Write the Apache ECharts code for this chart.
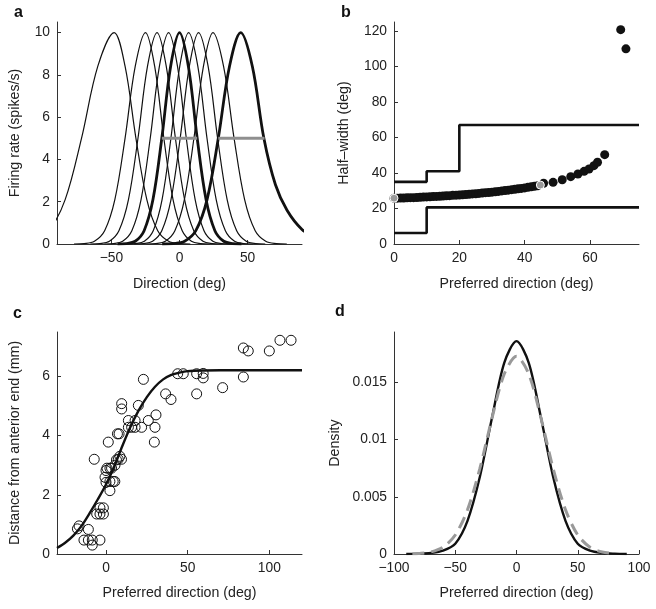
<!DOCTYPE html>
<html><head><meta charset="utf-8">
<script src="https://cdn.jsdelivr.net/npm/echarts@6/dist/echarts.min.js"></script>
<style>html,body{margin:0;padding:0;background:#fff}#c{width:656px;height:609px}</style>
</head><body><div id="c"></div>
<script>
// ---------- Panel a: tuning curves ----------
const curveA1 = [[-144,0],[-120,0.02],[-108,0.13],[-96,0.63],[-84,2.1],[-72,5],[-60,8.41],[-48,10],[-40,8.41],[-32,5],[-24,2.1],[-16,0.63],[-8,0.13],[0,0.02],[8,0]];
const curveA2 = [[-77.5,0],[-70,0.02],[-62.5,0.13],[-55,0.63],[-47.5,2.1],[-40,5],[-32.5,8.41],[-25,10],[-18.25,8.41],[-11.5,5],[-4.75,2.1],[2,0.63],[8.75,0.13],[15.5,0.02],[22.25,0]];
const curveA3 = [[-65.5,0],[-58.5,0.02],[-51.5,0.13],[-44.5,0.63],[-37.5,2.1],[-30.5,5],[-23.5,8.41],[-16.5,10],[-9.75,8.41],[-3,5],[3.75,2.1],[10.5,0.63],[17.25,0.13],[24,0.02],[30.75,0]];
const curveA4 = [[-55.25,0],[-48.5,0.02],[-41.75,0.13],[-35,0.63],[-28.25,2.1],[-21.5,5],[-14.75,8.41],[-8,10],[-1.5,8.41],[5,5],[11.5,2.1],[18,0.63],[24.5,0.13],[31,0.02],[37.5,0]];
const curveA5 = [[-45.5,0],[-39,0.02],[-32.5,0.13],[-26,0.63],[-19.5,2.1],[-13,5],[-6.5,8.41],[0,10],[6.5,8.41],[13,5],[19.5,2.1],[26,0.63],[32.5,0.13],[39,0.02],[45.5,0]];
const curveA6 = [[-38.8,0],[-32.3,0.02],[-25.8,0.13],[-19.3,0.63],[-12.8,2.1],[-6.3,5],[0.2,8.41],[6.7,10],[13.45,8.41],[20.2,5],[26.95,2.1],[33.7,0.63],[40.45,0.13],[47.2,0.02],[53.95,0]];
const curveA7 = [[-33.25,0],[-26.5,0.02],[-19.75,0.13],[-13,0.63],[-6.25,2.1],[0.5,5],[7.25,8.41],[14,10],[21,8.41],[28,5],[35,2.1],[42,0.63],[49,0.13],[56,0.02],[63,0]];
const curveA8 = [[-24.4,0],[-17.4,0.02],[-10.4,0.13],[-3.4,0.63],[3.6,2.1],[10.6,5],[17.6,8.41],[24.6,10],[32.35,8.41],[40.1,5],[47.85,2.1],[55.6,0.63],[63.35,0.13],[71.1,0.02],[78.85,0]];
const curveA9 = [[-12.75,0],[-4.5,0.02],[3.75,0.13],[12,0.63],[20.25,2.1],[28.5,5],[36.75,8.41],[45,10],[53.5,8.41],[62,5],[70.5,2.8],[79,1.6],[90,0.69],[100,0.3]];
const thinCurvesA = [curveA1, curveA2, curveA3, curveA4, curveA6, curveA7, curveA8];
const boldCurvesA = [curveA5, curveA9];
const halfBarsA = [[[-13,5],[13,5]], [[28.5,5],[62.5,5]]];
const ticksAx = [-50, 0, 50];
const ticksAy = [0, 2, 4, 6, 8, 10];

// ---------- Panel b: half-width vs preferred direction ----------
const bandBx = [0,1,2,3,4,5,6,7,8,9,10,11,12,13,14,15,16,17,18,19,20,21,22,23,24,25,26,27,28,29,30,31,32,33,34,35,36,37,38,39,40,41,42,43,44];
const bandBy = [25.8,25.8,25.9,25.9,26.0,26.1,26.1,26.2,26.3,26.4,26.5,26.6,26.7,26.8,26.9,27.0,27.1,27.2,27.4,27.5,27.6,27.7,27.9,28.0,28.2,28.3,28.5,28.7,28.9,29.0,29.2,29.4,29.6,29.9,30.1,30.3,30.6,30.8,31.1,31.3,31.6,31.9,32.2,32.5,32.8];
const dotsB = [[45.8,34.2],[48.7,34.7],[51.5,36.2],[54.1,37.9],[56.3,39.4],[58.2,40.9],[59.7,42.2],[61.2,44.1],[62.3,46],[64.5,50.3],[69.4,120.7],[71,109.9]];
const grayB = [[0,25.8],[44.8,33.2]];
const upperB = [[0,35],[10,35],[10,41],[20,41],[20,67],[75,67]];
const lowerB = [[0,6.2],[10,6.2],[10,20.6],[75,20.6]];
const ticksBx = [0, 20, 40, 60];
const ticksBy = [0, 20, 40, 60, 80, 100, 120];

// ---------- Panel c: distance vs preferred direction ----------
const pointsC = [[-17.5,0.85],[-16.5,0.95],[-10.8,0.83],[-13.5,0.47],[-10.8,0.47],[-8.4,0.47],[-8.4,0.3],[-3.7,0.47],[-7.2,3.2],
 [-5.7,1.35],[-3.7,1.35],[-1.6,1.35],[-3.7,1.56],[-1.6,1.56],[0,2.82],[-0.6,2.59],[0,2.42],[0.6,2.9],[1.4,3.78],[2.4,2.14],
 [2.4,2.9],[3.4,2.9],[2.4,2.45],[4.4,2.45],[5.4,2.45],[5.5,3.0],[6.4,3.18],[7.5,3.2],[8.5,3.3],[9.5,3.2],[7,4.06],[8,4.06],
 [9.6,5.08],[9.6,4.9],[13.7,4.51],[13.7,4.28],[15.7,4.28],[17.8,4.51],[17.8,4.28],[19.8,5.02],[21.8,4.28],[22.9,5.9],[25.9,4.51],
 [30,4.28],[29.6,3.78],[30.6,4.7],[36.5,5.41],[39.8,5.22],[43.9,6.09],[47.3,6.09],[55.5,6.09],[55.5,5.41],[59.5,6.1],[59.5,5.95],
 [71.4,5.62],[84.1,6.96],[87.1,6.86],[84.1,5.98],[100,6.86],[106.5,7.22],[113.3,7.22]];
const fitC = [[-30,0.2],[-25,0.38],[-20,0.62],[-15,0.95],[-10,1.38],[-5,1.85],[0,2.35],[5,2.95],[10,3.65],[15,4.3],[20,4.85],[25,5.3],[30,5.65],[35,5.9],[40,6.05],[45,6.13],[50,6.18],[60,6.2],[80,6.21],[120,6.21]];
const ticksCx = [0, 50, 100];
const ticksCy = [0, 2, 4, 6];

// ---------- Panel d: density ----------
const densBlack = [[-90,0],[-80,0.00003],[-70,0.0001],[-60,0.0003],[-50,0.0009],[-40,0.0029],[-30,0.0067],[-20,0.0119],[-10,0.0167],[0,0.0186],[10,0.0167],[20,0.0119],[30,0.0067],[40,0.0029],[50,0.0009],[60,0.0003],[70,0.0001],[80,0.00003],[90,0]];
const densGray = [[-85,0.00002],[-80,0.000043],[-70,0.000175],[-60,0.00059],[-50,0.00166],[-40,0.00386],[-30,0.00743],[-20,0.01187],[-10,0.01573],[0,0.01727],[10,0.01573],[20,0.01187],[30,0.00743],[40,0.00386],[50,0.00166],[60,0.00059],[70,0.000175],[80,0.000043]];
const ticksDx = [-100, -50, 0, 50, 100];
const ticksDy = [0, 0.005, 0.01, 0.015];

// ---------- build ----------
const FONT = 'Liberation Sans, Arial, Helvetica, sans-serif';
const AX = '#333';
const fmt = v => (v < 0 ? '\u2212' + Math.abs(v) : String(v));
function axis(gi, min, max, ticks, name, nameGap) {
  return {
    type: 'value', gridIndex: gi, min: min, max: max,
    name: name, nameLocation: 'middle', nameGap: nameGap,
    nameTextStyle: {fontFamily: FONT, fontSize: 14.2, color: '#222'},
    axisLine: {show: true, onZero: false, lineStyle: {color: AX, width: 1}},
    axisTick: {show: true, inside: true, length: 4, customValues: ticks, lineStyle: {color: AX, width: 1}},
    axisLabel: {show: true, customValues: ticks, formatter: fmt, margin: 7, fontFamily: FONT, fontSize: 13.8, color: '#222'},
    splitLine: {show: false}
  };
}
const grids = [
  {left: 57, top: 22, width: 245, height: 222},
  {left: 394, top: 22, width: 245, height: 222},
  {left: 57, top: 332, width: 245, height: 222},
  {left: 394, top: 332, width: 245, height: 222}
];
const xAxes = [
  axis(0, -90, 90, ticksAx, 'Direction (deg)', 33),
  axis(1, 0, 75, ticksBx, 'Preferred direction (deg)', 33),
  axis(2, -30, 120, ticksCx, 'Preferred direction (deg)', 32),
  axis(3, -100, 100, ticksDx, 'Preferred direction (deg)', 32)
];
const yAxes = [
  axis(0, 0, 10.5, ticksAy, 'Firing rate (spikes/s)', 35),
  axis(1, 0, 125, ticksBy, 'Half\u2013width (deg)', 43),
  axis(2, 0, 7.5, ticksCy, 'Distance from anterior end (mm)', 35),
  axis(3, 0, 0.0194, ticksDy, 'Density', 52)
];
const series = [];
function line(gi, data, color, width, extra) {
  return Object.assign({type: 'line', xAxisIndex: gi, yAxisIndex: gi, data: data, showSymbol: false, symbol: 'none',
    lineStyle: {color: color, width: width}, silent: true, z: 2}, extra || {});
}
thinCurvesA.forEach(c => series.push(line(0, c, '#111', 1.2, {smooth: 0.35})));
boldCurvesA.forEach(c => series.push(line(0, c, '#111', 2.8, {smooth: 0.35})));
halfBarsA.forEach(b => series.push(line(0, b, '#8f8f8f', 3, {z: 3})));

series.push(line(1, upperB, '#111', 2.6));
series.push(line(1, lowerB, '#111', 2.6));
series.push({type: 'scatter', xAxisIndex: 1, yAxisIndex: 1, data: bandBx.map((x, i) => [x, bandBy[i]]),
  symbolSize: 9, itemStyle: {color: '#111', opacity: 1}, silent: true, z: 3});
series.push({type: 'scatter', xAxisIndex: 1, yAxisIndex: 1, data: dotsB,
  symbolSize: 9, itemStyle: {color: '#111', opacity: 1}, silent: true, z: 3});
series.push({type: 'scatter', xAxisIndex: 1, yAxisIndex: 1, data: grayB,
  symbolSize: 8, itemStyle: {color: '#999', borderColor: '#fff', borderWidth: 1, opacity: 1}, silent: true, z: 4});

series.push(line(2, fitC, '#111', 2.4, {smooth: 0.3}));
series.push({type: 'scatter', xAxisIndex: 2, yAxisIndex: 2, data: pointsC,
  symbolSize: 10, itemStyle: {color: 'rgba(0,0,0,0)', borderColor: '#111', borderWidth: 1, opacity: 1}, silent: true, z: 3});

series.push(line(3, densBlack, '#111', 2.4, {smooth: 0.3}));
series.push(line(3, densGray, '#999', 3, {smooth: 0.3, lineStyle: {color: '#999', width: 3, type: [12, 7]}, z: 3}));

const chart = echarts.init(document.getElementById('c'));
chart.setOption({
  animation: false,
  backgroundColor: '#fff',
  grid: grids, xAxis: xAxes, yAxis: yAxes, series: series,
  graphic: [
    {type: 'text', left: 14, top: 5, style: {text: 'a', font: 'bold 16px ' + FONT, fill: '#111'}},
    {type: 'text', left: 341, top: 5, style: {text: 'b', font: 'bold 16px ' + FONT, fill: '#111'}},
    {type: 'text', left: 13, top: 306, style: {text: 'c', font: 'bold 16px ' + FONT, fill: '#111'}},
    {type: 'text', left: 335, top: 304, style: {text: 'd', font: 'bold 16px ' + FONT, fill: '#111'}}
  ]
});
</script></body></html>
